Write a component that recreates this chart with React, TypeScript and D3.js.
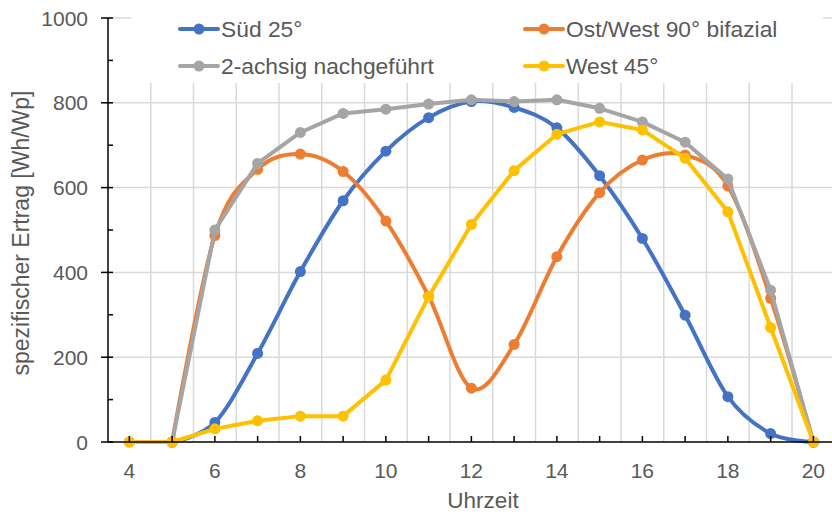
import React from "react";
import * as d3 from "d3";

const hours = [4, 5, 6, 7, 8, 9, 10, 11, 12, 13, 14, 15, 16, 17, 18, 19, 20];
const sued25 = [null, 0, 46, 209, 402, 569, 686, 765, 803, 789, 741, 628, 480, 299, 107, 20, 0];
const ostWest90 = [null, 0, 487, 643, 679, 638, 521, 344, 127, 230, 437, 588, 665, 677, 604, 339, 0];
const zweiAchsig = [0, 0, 500, 657, 730, 775, 785, 797, 807, 803, 807, 787, 755, 707, 620, 358, 0];
const west45 = [0, 0, 31, 50, 61, 61, 146, 343, 513, 640, 726, 755, 736, 669, 543, 270, 0];

const xTicks = [4, 6, 8, 10, 12, 14, 16, 18, 20];
const yTicks = [0, 200, 400, 600, 800, 1000];

const seriesList = [
  { name: "Süd 25°", values: sued25, color: "#4472C4", smooth: true },
  { name: "Ost/West 90° bifazial", values: ostWest90, color: "#ED7D31", smooth: true },
  { name: "2-achsig nachgeführt", values: zweiAchsig, color: "#A5A5A5", smooth: false },
  { name: "West 45°", values: west45, color: "#FFC000", smooth: false },
];

const legendPos = [
  { x: 180, y: 29 },
  { x: 525, y: 29 },
  { x: 180, y: 66 },
  { x: 525, y: 66 },
];

export default function App() {
  const W = 832;
  const H = 512;
  const x = d3.scaleLinear().domain([3.5, 20.5]).range([108, 834.75]);
  const y = d3.scaleLinear().domain([0, 1000]).range([442, 18]);
  const font = "'Liberation Sans', Arial, sans-serif";
  const textColor = "#595959";

  const vGrid = d3.range(4.5, 20.5, 1);
  const hGrid = [200, 400, 600, 800, 1000];
  const minorY = d3.range(100, 1000, 200);
  const allXTicks = d3.range(4, 21, 1);

  return (
    <svg width={W} height={H} style={{ position: "absolute", left: 0, top: 0, background: "#fff" }}>
      <rect x={0} y={0} width={W} height={H} fill="#fff" />
      {vGrid.map((v) => (
        <line key={"vg" + v} x1={x(v)} x2={x(v)} y1={y(1000)} y2={y(0)} stroke="#D9D9D9" strokeWidth={1.5} />
      ))}
      {hGrid.map((v) => (
        <line key={"hg" + v} x1={108} x2={W} y1={y(v)} y2={y(v)} stroke="#D9D9D9" strokeWidth={1.5} />
      ))}
      <rect x={131} y={0} width={692} height={83} fill="#fff" />
      {seriesList.map((s) => {
        const pts = s.values
          .map((v, i) => ({ h: hours[i], v }))
          .filter((p) => p.v !== null) as { h: number; v: number }[];
        const line = d3
          .line<{ h: number; v: number }>()
          .x((d) => x(d.h))
          .y((d) => y(d.v))
          .curve(s.smooth ? d3.curveCardinal.tension(0) : d3.curveLinear);
        return (
          <g key={s.name}>
            <path d={line(pts) || ""} fill="none" stroke={s.color} strokeWidth={4} strokeLinejoin="round" strokeLinecap="round" />
            {pts.map((p, i) => (
              <circle key={i} cx={x(p.h)} cy={y(p.v)} r={5.5} fill={s.color} />
            ))}
          </g>
        );
      })}
      <line x1={108} x2={108} y1={y(1000)} y2={y(0)} stroke="#000" strokeWidth={1.5} />
      <line x1={108} x2={W} y1={y(0)} y2={y(0)} stroke="#000" strokeWidth={1.5} />
      {yTicks.map((v) => (
        <line key={"yt" + v} x1={101} x2={113} y1={y(v)} y2={y(v)} stroke="#000" strokeWidth={1.5} />
      ))}
      {minorY.map((v) => (
        <line key={"ym" + v} x1={108} x2={113} y1={y(v)} y2={y(v)} stroke="#000" strokeWidth={1.5} />
      ))}
      {allXTicks.map((v) => (
        <line key={"xt" + v} x1={x(v)} x2={x(v)} y1={y(0) - 6} y2={y(0)} stroke="#000" strokeWidth={1.5} />
      ))}
      {yTicks.map((v) => (
        <text key={"yl" + v} x={88} y={y(v) + 7.5} textAnchor="end" fontFamily={font} fontSize={21} fill={textColor}>
          {v}
        </text>
      ))}
      {xTicks.map((v) => (
        <text key={"xl" + v} x={x(v)} y={478} textAnchor="middle" fontFamily={font} fontSize={21} fill={textColor}>
          {v}
        </text>
      ))}
      <text x={483} y={508} textAnchor="middle" fontFamily={font} fontSize={22.5} fill={textColor}>
        Uhrzeit
      </text>
      <text
        transform={`translate(29, 233) rotate(-90)`}
        textAnchor="middle"
        fontFamily={font}
        fontSize={23}
        fill={textColor}
      >
        spezifischer Ertrag [Wh/Wp]
      </text>
      {seriesList.map((s, i) => (
        <g key={"lg" + s.name}>
          <line x1={legendPos[i].x} x2={legendPos[i].x + 38} y1={legendPos[i].y} y2={legendPos[i].y} stroke={s.color} strokeWidth={4} strokeLinecap="round" />
          <circle cx={legendPos[i].x + 19} cy={legendPos[i].y} r={5.5} fill={s.color} />
          <text x={legendPos[i].x + 41} y={legendPos[i].y + 8} fontFamily={font} fontSize={22.8} fill={textColor}>
            {s.name}
          </text>
        </g>
      ))}
    </svg>
  );
}
